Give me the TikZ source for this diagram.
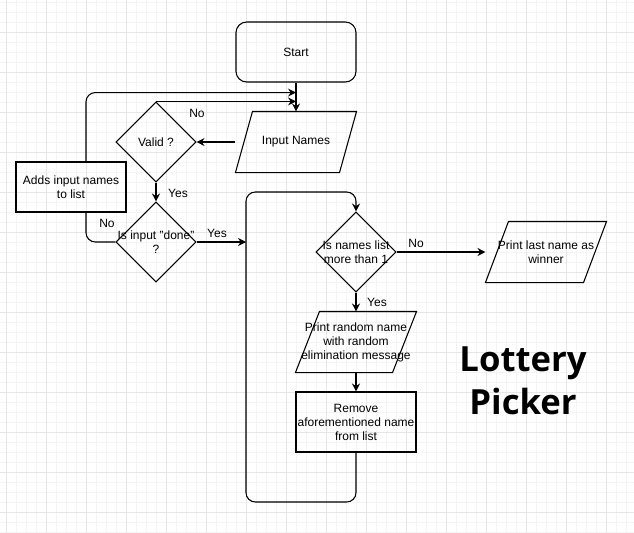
\documentclass[tikz,border=0pt]{standalone}
\usepackage{fontspec}
\setmainfont{Liberation Sans}
\newfontfamily\titlefont{Open Sans}
\usetikzlibrary{shapes.geometric,arrows.meta,calc}
\definecolor{gridminor}{HTML}{F4F4F4}
\definecolor{gridmajor}{HTML}{E6E6E6}
\newcommand\drawpara[2]{\draw ($(#1.north west)+(#2,0)$) -- (#1.north east) -- ($(#1.south east)-(#2,0)$) -- (#1.south west) -- cycle;}
\begin{document}
\begin{tikzpicture}[x=0.75pt,y=-0.75pt,
  line width=0.8pt,
  font=\fontsize{9}{10.5}\selectfont,
  arr/.style={-{Stealth[length=6pt,width=6pt,inset=2pt]}},
  boxnode/.style={draw, minimum width=90pt, minimum height=45pt, inner sep=0pt, align=center},
  startnode/.style={boxnode, rounded corners=8pt},
  paranode/.style={minimum width=90pt, minimum height=45pt, inner sep=0pt, align=center},
  dianode/.style={draw, diamond, minimum width=60pt, minimum height=60pt, inner sep=0pt},
  txt/.style={align=center, inner sep=0pt},
  lbl/.style={inner sep=0pt}
]
\useasboundingbox (0,0) rectangle (634,532);
\fill[white] (0,0) rectangle (634,532);
% grid
\foreach \x in {6,16,...,626} \draw[gridminor,line width=0.75pt] (\x,0) -- (\x,532);
\foreach \y in {2,12,...,532} \draw[gridminor,line width=0.75pt] (0,\y) -- (634,\y);
\foreach \x in {6,46,...,626} \draw[gridmajor,line width=0.75pt] (\x,0) -- (\x,532);
\foreach \y in {32,72,...,532} \draw[gridmajor,line width=0.75pt] (0,\y) -- (634,\y);

% nodes
\node[startnode] (start) at (296,52) {Start};
\node[paranode] (input) at (296,142) {Input Names};
\drawpara{input}{17}
\node[dianode] (valid) at (156,142) {};
\node[txt] (validt) at (valid) {Valid ?};
\node[dianode] (done) at (156,242) {};
\node[txt] (donet) at (done) {Is input "done"\\?};
\node[boxnode, minimum width=82.5pt, minimum height=37.5pt] (adds) at (71,187) {Adds input names\\to list};
\node[dianode] (names) at (356,252) {};
\node[txt] (namest) at (names) {Is names list\\more than 1};
\node[paranode] (last) at (546,252) {Print last name as\\winner};
\drawpara{last}{23}
\node[paranode] (rand) at (356,342) {Print random name\\with random\\elimination message};
\drawpara{rand}{24}
\node[boxnode] (remove) at (356,422) {Remove\\aforementioned name\\from list};
\node[font=\titlefont\bfseries\fontsize{26}{32}\selectfont, align=center, inner sep=0pt] (title) at (523,381) {Lottery\\Picker};

% helper coordinates
\coordinate (j1) at (start.south |- valid.north);
\coordinate (j2) at ($(start.south)+(0,10)$);
\coordinate (aT) at ($(adds.north)+(15,0)$);
\coordinate (aB) at ($(adds.south)+(15,0)$);
\coordinate (loopIn) at (246,242);
\coordinate (lpBL) at (246,502);
\coordinate (lpTL) at (246,192);

% connectors
\draw[arr] (start) -- (input);
\draw[arr] (input.west) -- (valid.east);
\draw[arr] (valid.north) -- (j1);
\draw[arr, rounded corners=7pt] (aT) |- (j2);
\draw[arr] (valid.south) -- (done.north);
\draw[rounded corners=7pt] (done.west) -| (aB);
\draw[arr] (done.east) -- (loopIn);
\draw[arr, rounded corners=7pt] (remove.south) |- (lpBL) -- (lpTL) -| (names.north);
\draw[arr] (names.east) -- (last.west);
\draw[arr] (names.south) -- (rand.north);
\draw[arr] (rand.south) -- (remove.north);

% labels
\node[lbl] (l1) at (197,113) {No};
\node[lbl] (l2) at (178,193) {Yes};
\node[lbl] (l3) at (107,223) {No};
\node[lbl] (l4) at (217,233) {Yes};
\node[lbl] (l5) at (416,243) {No};
\node[lbl] (l6) at (377,302) {Yes};
\end{tikzpicture}
\end{document}
